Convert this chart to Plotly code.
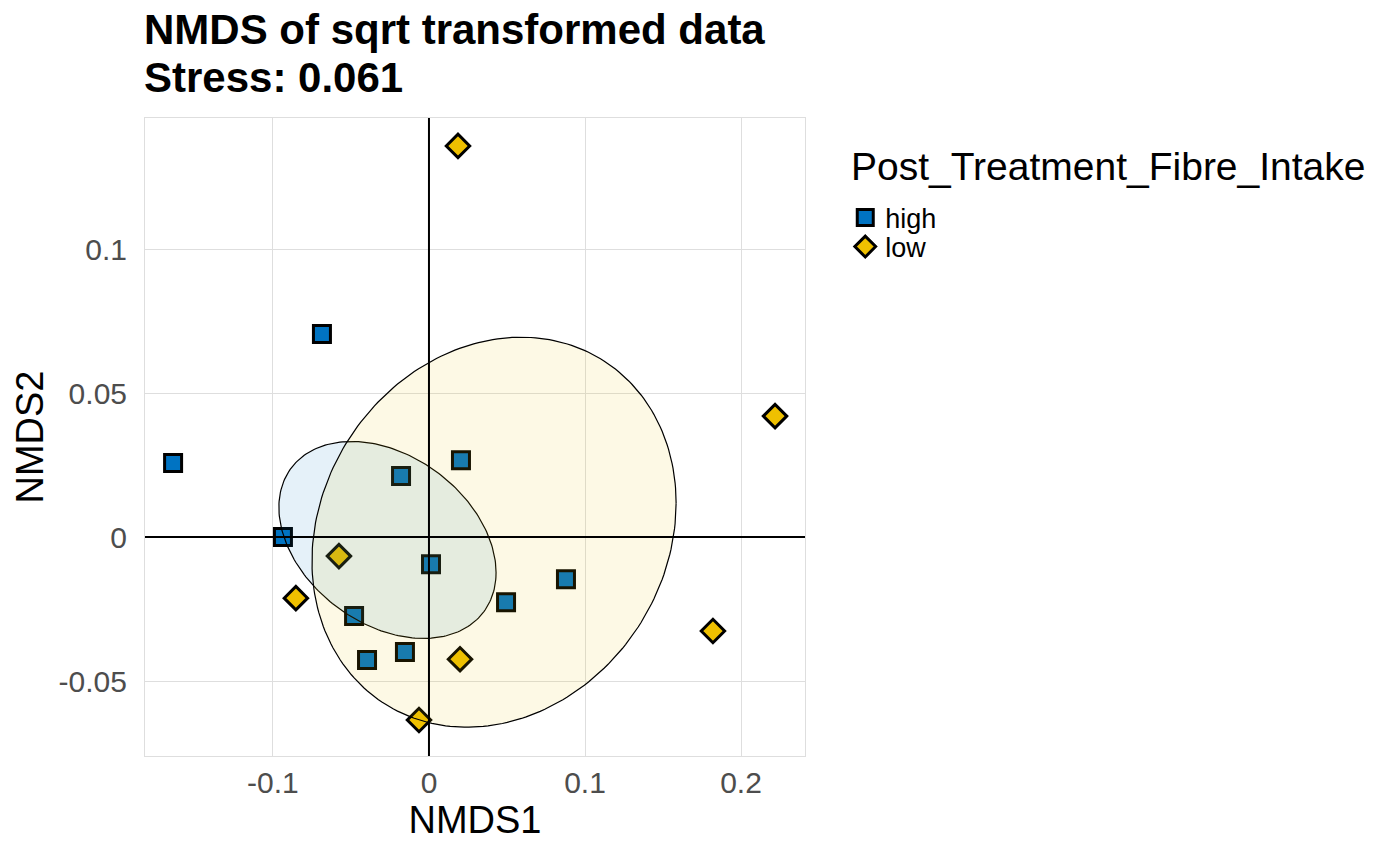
import numpy as np
import plotly.graph_objects as go

# NMDS site scores
high_x = [-0.164, -0.0686, -0.0936, -0.0179, 0.0205, 0.0013, -0.048, -0.0397, -0.0154, 0.0494, 0.0878]
high_y = [0.0257, 0.0705, 0.0, 0.0212, 0.0267, -0.0094, -0.0274, -0.0427, -0.0399, -0.0226, -0.0146]
low_x = [0.0186, 0.2218, -0.0577, -0.0853, 0.0199, -0.0064, 0.182]
low_y = [0.1358, 0.042, -0.0066, -0.0212, -0.0424, -0.0635, -0.0326]

# ellipse parameters per group: centre, spread in x / y, correlation
ell_high = dict(cx=-0.0266, cy=-0.0010, sx=0.0696, sy=0.0342, r=-0.331)
ell_low = dict(cx=0.0417, cy=0.0017, sx=0.1167, sy=0.0677, r=0.149)

x_ticks = [-0.1, 0, 0.1, 0.2]
x_labels = ["-0.1", "0", "0.1", "0.2"]
y_ticks = [-0.05, 0, 0.05, 0.1]
y_labels = ["-0.05", "0", "0.05", "0.1"]

title_lines = ["NMDS of sqrt transformed data", "Stress: 0.061"]
legend_title = "Post_Treatment_Fibre_Intake"

BLUE = "#0073C2"
YELLOW = "#EFC000"
FONT = "Liberation Sans, Arial, sans-serif"


def ellipse_path(e, n=240):
    t = np.linspace(0, 2 * np.pi, n)
    x = e["cx"] + e["sx"] * np.cos(t)
    y = e["cy"] + e["sy"] * (e["r"] * np.cos(t) + np.sqrt(1 - e["r"] ** 2) * np.sin(t))
    return x, y


fig = go.Figure()

# each group gets its own legend so the two rows can sit tight like ggplot's
fig.add_trace(go.Scatter(
    x=high_x, y=high_y, mode="markers", name="high", legend="legend",
    marker=dict(symbol="square", size=17, color=BLUE,
                line=dict(color="black", width=3)),
))
fig.add_trace(go.Scatter(
    x=low_x, y=low_y, mode="markers", name="low", legend="legend2",
    marker=dict(symbol="diamond", size=18, color=YELLOW,
                line=dict(color="black", width=3)),
))

# ellipses drawn over the points, as in the original
for e, col in [(ell_high, "rgba(0,115,194,0.1)"), (ell_low, "rgba(239,192,0,0.1)")]:
    ex, ey = ellipse_path(e)
    fig.add_trace(go.Scatter(
        x=ex, y=ey, mode="lines", fill="toself", fillcolor=col,
        line=dict(color="black", width=1.2), showlegend=False, hoverinfo="skip",
    ))

# reference lines at zero
fig.add_hline(y=0, line=dict(color="black", width=2), layer="above")
fig.add_vline(x=0, line=dict(color="black", width=2), layer="above")

# two-line bold title
for txt, ty in zip(title_lines, [1.138, 1.0627]):
    fig.add_annotation(
        text=f"<b>{txt}</b>", xref="paper", yref="paper", x=-0.004, y=ty,
        xanchor="left", yanchor="middle", showarrow=False,
        font=dict(family=FONT, size=42, color="black"),
    )

# legend title
fig.add_annotation(
    text=legend_title, xref="paper", yref="paper", x=1.0667, y=0.9232,
    xanchor="left", yanchor="middle", showarrow=False,
    font=dict(family=FONT, size=39, color="black"),
)

axis_common = dict(
    showgrid=True, gridcolor="#dedede", gridwidth=1,
    zeroline=False, showline=True, linecolor="#dedede", linewidth=1, mirror=True,
    ticks="", tickfont=dict(family=FONT, size=30, color="#4d4d4d"),
)

legend_common = dict(
    font=dict(family=FONT, size=27), x=1.061, xanchor="left", yanchor="middle",
    bgcolor="rgba(0,0,0,0)",
)

fig.update_layout(
    width=1392, height=852,
    paper_bgcolor="white", plot_bgcolor="white",
    margin=dict(l=137, r=595, t=110, b=104),
    font=dict(family=FONT, color="black"),
    xaxis=dict(
        range=[-0.182, 0.241], tickvals=x_ticks, ticktext=x_labels,
        title=dict(text="NMDS1", font=dict(family=FONT, size=38), standoff=8),
        **axis_common,
    ),
    yaxis=dict(
        range=[-0.076, 0.1455], tickvals=y_ticks, ticktext=y_labels,
        ticklabelstandoff=11,
        title=dict(text="NMDS2", font=dict(family=FONT, size=38), standoff=3),
        **axis_common,
    ),
    legend=dict(y=0.8433, **legend_common),
    legend2=dict(y=0.7978, **legend_common),
)

fig.write_html("out.html")
